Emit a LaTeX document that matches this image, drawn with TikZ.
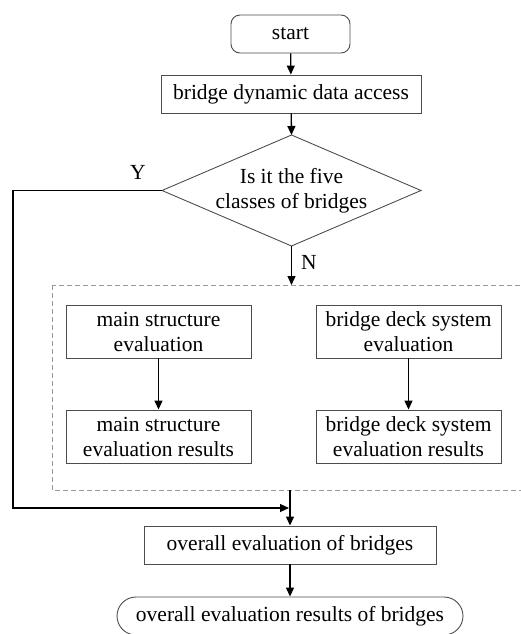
\documentclass[tikz,border=0pt]{standalone}
\usepackage{fontspec}
\setmainfont{Liberation Serif}
\usetikzlibrary{arrows.meta}
\begin{document}
\begin{tikzpicture}[x=1pt,y=-1pt,
  font=\fontsize{21.5}{25}\selectfont,
  box/.style={draw=black!70,line width=0.9pt,rectangle,inner sep=0pt,align=center},
  term/.style={box,rounded corners=9pt},
  conn/.style={line width=1.3pt,-{Triangle[length=9pt,width=8pt]}},
  lbl/.style={inner sep=0pt,align=center}]
\useasboundingbox (0,0) rectangle (521,634);
\clip (0,0) rectangle (521,634);
\draw[draw=black!40,dash pattern=on 5pt off 3pt,line width=0.8pt] (52,285) rectangle (545,490);
\node[term,minimum width=119pt,minimum height=38pt] (start) at (290.5,34) {start};
\node[box,minimum width=260pt,minimum height=38pt] (access) at (291,94) {bridge dynamic data access};
\node[lbl] (dec) at (291.5,191) {Is it the five\\classes of bridges};
\coordinate (dn) at (291.5,135);
\coordinate (ds) at (291.5,246);
\coordinate (dw) at (162,190.5);
\coordinate (de) at (421,190.5);
\draw[draw=black!70,line width=0.9pt] (dn) -- (de) -- (ds) -- (dw) -- cycle;
\node[lbl] (Y) at (138,172) {Y};
\node[lbl] (N) at (309,262) {N};
\node[box,minimum width=185pt,minimum height=53pt] (ms) at (158.5,331.5) {main structure\\evaluation};
\node[box,minimum width=185pt,minimum height=53pt] (msr) at (158.5,436.5) {main structure\\evaluation results};
\node[box,minimum width=185pt,minimum height=53pt] (bd) at (408.5,331.5) {bridge deck system\\evaluation};
\node[box,minimum width=185pt,minimum height=53pt] (bdr) at (408.5,436.5) {bridge deck system\\evaluation results};
\node[box,minimum width=292pt,minimum height=38pt] (ov) at (290,545) {overall evaluation of bridges};
\node[box,rounded corners=19pt,minimum width=346pt,minimum height=38pt] (fin) at (290,616) {overall evaluation results of bridges};
\coordinate (dtop) at (291.5,285);
\coordinate (dbot) at (290,490);
\coordinate (yl) at (13,190.5);
\coordinate (yb) at (13,508);
\coordinate (yj) at (289,508);
\draw[conn] (start) -- (access);
\draw[conn] (access) -- (dn);
\draw[conn] (ds) -- (dtop);
\draw[conn] (ms) -- (msr);
\draw[conn] (bd) -- (bdr);
\draw[conn] (dbot) -- (ov.north);
\draw[conn] (dw) -- (yl) -- (yb) -- (yj);
\draw[conn] (ov) -- (fin);
\end{tikzpicture}
\end{document}
